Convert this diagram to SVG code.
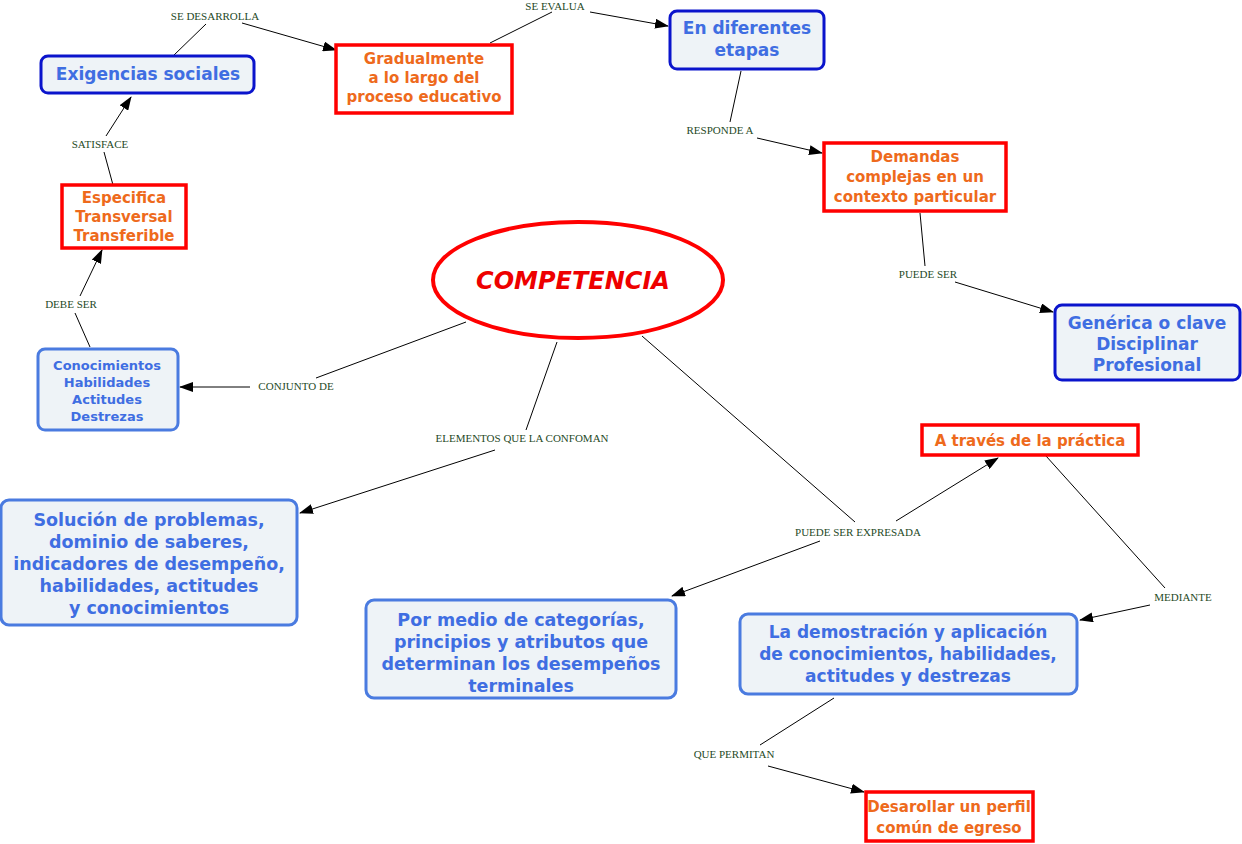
<svg xmlns="http://www.w3.org/2000/svg" width="1242" height="844" viewBox="0 0 1242 844">
<style>
.dk{fill:#eef3f7;stroke:#0a14cc;stroke-width:3}
.lt{fill:#eef3f7;stroke:#4a7be0;stroke-width:3}
.rd{fill:#fff;stroke:#ff0000;stroke-width:3.5}
.bt{font-family:"DejaVu Sans",Verdana,sans-serif;font-weight:bold;fill:#3f6ee2;text-anchor:middle}
.ot{font-family:"DejaVu Sans",Verdana,sans-serif;font-weight:bold;fill:#ee6a1c;text-anchor:middle;font-size:15px}
.lb{font-family:"Liberation Serif",serif;font-size:11px;fill:#1f4a1f;text-anchor:middle}
.c line{stroke:#000;stroke-width:1}
.c line.a{marker-end:url(#ah)}
</style>
<defs><marker id="ah" markerWidth="14" markerHeight="10" refX="13" refY="5" orient="auto" markerUnits="userSpaceOnUse"><path d="M0,0L14,5L0,10z" fill="#000"/></marker></defs>
<rect width="1242" height="844" fill="#fff"/>
<g class="c">
<line x1="173" y1="56" x2="206" y2="24"/><line class="a" x1="242" y1="23" x2="336" y2="50"/>
<line x1="490" y1="43" x2="552" y2="12"/><line class="a" x1="590" y1="12" x2="668" y2="26"/>
<line x1="741" y1="71" x2="730" y2="122"/><line class="a" x1="757" y1="138" x2="822" y2="153"/>
<line x1="920" y1="213" x2="925" y2="266"/><line class="a" x1="955" y1="282" x2="1053" y2="312"/>
<line x1="113" y1="185" x2="104" y2="152"/><line class="a" x1="106" y1="136" x2="131" y2="97"/>
<line x1="90" y1="347" x2="75" y2="313"/><line class="a" x1="80" y1="296" x2="102" y2="250"/>
<line x1="466" y1="322" x2="316" y2="378"/><line class="a" x1="250" y1="387" x2="180" y2="387"/>
<line x1="557" y1="342" x2="526" y2="430"/><line class="a" x1="495" y1="450" x2="300" y2="513"/>
<line x1="642" y1="336" x2="855" y2="522"/><line class="a" x1="820" y1="541" x2="672" y2="596"/><line class="a" x1="896" y1="521" x2="998" y2="458"/>
<line x1="1046" y1="456" x2="1165" y2="588"/><line class="a" x1="1150" y1="605" x2="1080" y2="620"/>
<line x1="834" y1="698" x2="760" y2="745"/><line class="a" x1="768" y1="766" x2="864" y2="792"/>
<text class="lb" x="215" y="20">SE DESARROLLA</text>
<text class="lb" x="555" y="10">SE EVALUA</text>
<text class="lb" x="720" y="134">RESPONDE A</text>
<text class="lb" x="928" y="278">PUEDE SER</text>
<text class="lb" x="100" y="148">SATISFACE</text>
<text class="lb" x="71" y="308">DEBE SER</text>
<text class="lb" x="296" y="390">CONJUNTO DE</text>
<text class="lb" x="522" y="442">ELEMENTOS QUE LA CONFOMAN</text>
<text class="lb" x="858" y="536">PUEDE SER EXPRESADA</text>
<text class="lb" x="1183" y="601">MEDIANTE</text>
<text class="lb" x="734" y="758">QUE PERMITAN</text>
</g>
<g id="competencia"><ellipse cx="578" cy="280" rx="145" ry="58" fill="#fff" stroke="#ff0000" stroke-width="4"/><text x="573" y="289" font-family="DejaVu Sans,Verdana,sans-serif" font-weight="bold" font-style="italic" font-size="24" fill="#ee0000" text-anchor="middle">COMPETENCIA</text></g>
<g id="exigencias"><rect class="dk" x="41" y="56" width="213" height="37" rx="7"/><text class="bt" x="148" y="80" font-size="17">Exigencias sociales</text></g>
<g id="gradualmente"><rect class="rd" x="336" y="45" width="176" height="68"/><text class="ot" x="424" y="64">Gradualmente</text><text class="ot" x="424" y="83">a lo largo del</text><text class="ot" x="424" y="102">proceso educativo</text></g>
<g id="etapas"><rect class="dk" x="670" y="11" width="154" height="58" rx="7"/><text class="bt" x="747" y="34" font-size="17">En diferentes</text><text class="bt" x="747" y="56" font-size="17">etapas</text></g>
<g id="demandas"><rect class="rd" x="824" y="143" width="182" height="68"/><text class="ot" x="915" y="162">Demandas</text><text class="ot" x="915" y="182">complejas en un</text><text class="ot" x="915" y="202">contexto particular</text></g>
<g id="generica"><rect class="dk" x="1055" y="305" width="185" height="75" rx="7"/><text class="bt" x="1147" y="329" font-size="17">Genérica o clave</text><text class="bt" x="1147" y="350" font-size="17">Disciplinar</text><text class="bt" x="1147" y="371" font-size="17">Profesional</text></g>
<g id="especifica"><rect class="rd" x="62" y="185" width="124" height="63"/><text class="ot" x="124" y="203">Especifica</text><text class="ot" x="124" y="222">Transversal</text><text class="ot" x="124" y="241">Transferible</text></g>
<g id="conocimientos"><rect class="lt" x="38" y="349" width="140" height="81" rx="7"/><text class="bt" x="107" y="370" font-size="13">Conocimientos</text><text class="bt" x="107" y="387" font-size="13">Habilidades</text><text class="bt" x="107" y="404" font-size="13">Actitudes</text><text class="bt" x="107" y="421" font-size="13">Destrezas</text></g>
<g id="solucion"><rect class="lt" x="1" y="500" width="296" height="125" rx="8"/><text class="bt" font-size="17.5" x="149" y="526">Solución de problemas,</text><text class="bt" font-size="17.5" x="149" y="548">dominio de saberes,</text><text class="bt" font-size="17.5" x="149" y="570">indicadores de desempeño,</text><text class="bt" font-size="17.5" x="149" y="592">habilidades, actitudes</text><text class="bt" font-size="17.5" x="149" y="614">y conocimientos</text></g>
<g id="categorias"><rect class="lt" x="366" y="600" width="310" height="98" rx="8"/><text class="bt" font-size="17.5" x="521" y="626">Por medio de categorías,</text><text class="bt" font-size="17.5" x="521" y="648">principios y atributos que</text><text class="bt" font-size="17.5" x="521" y="670">determinan los desempeños</text><text class="bt" font-size="17.5" x="521" y="692">terminales</text></g>
<g id="practica"><rect class="rd" x="922" y="425" width="216" height="30"/><text class="ot" x="1030" y="446">A través de la práctica</text></g>
<g id="demostracion"><rect class="lt" x="740" y="614" width="337" height="80" rx="8"/><text class="bt" font-size="17" x="908" y="638">La demostración y aplicación</text><text class="bt" font-size="17" x="908" y="660">de conocimientos, habilidades,</text><text class="bt" font-size="17" x="908" y="682">actitudes y destrezas</text></g>
<g id="perfil"><rect class="rd" x="866" y="792" width="167" height="49"/><text class="ot" x="949" y="812">Desarollar un perfil</text><text class="ot" x="949" y="833">común de egreso</text></g>
</svg>
